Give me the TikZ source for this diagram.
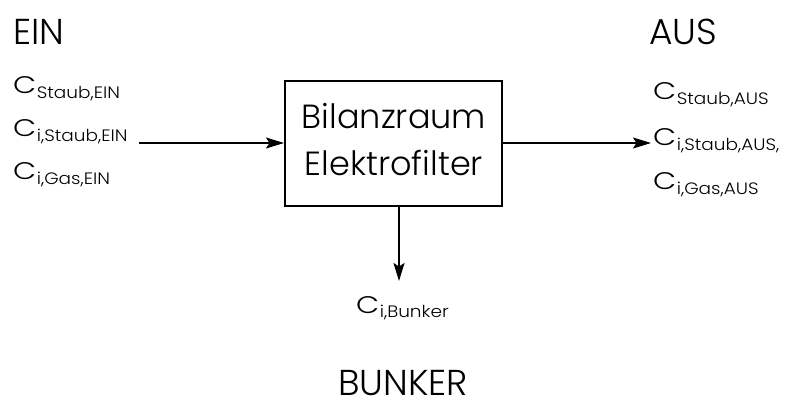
\documentclass[tikz,border=0pt]{standalone}
\usepackage{fontspec}
\setmainfont{Poppins Light}
\newfontfamily\symfont{Poppins Light}[FakeStretch=1.25]
\newfontfamily\idxfont{Poppins Light}[FakeStretch=1.12]
\usetikzlibrary{arrows.meta}

% concentration symbol: large C followed by a lowered index
\newcommand\conc[1]{{\symfont\fontsize{24}{24}\selectfont C}\kern0.5pt\raisebox{-5pt}{\idxfont\fontsize{16.5}{16.5}\selectfont #1}}

\tikzset{
  heading/.style={inner sep=0pt, anchor=base west, font=\fontsize{36}{36}\selectfont},
  boxtext/.style={inner sep=0pt, anchor=base, font=\fontsize{33.5}{33.5}\selectfont},
  label/.style={inner sep=0pt, anchor=base west},
  balance/.style={draw, line width=2pt, minimum width=217pt, minimum height=125pt, inner sep=0pt},
  flow/.style={line width=1.6pt, -{Stealth[length=18pt, width=11pt, inset=3.5pt]}}
}

\begin{document}
\begin{tikzpicture}[x=1pt, y=1pt]
  \useasboundingbox (0,0) rectangle (787,-403);

  % headings
  \node[heading] (ein) at (13,-45) {EIN};
  \node[heading] (aus) at (649,-45) {AUS};
  \node[heading] (bunker) at (338,-395) {BUNKER};

  % incoming concentrations
  \node[label] (in1) at (13,-94) {\conc{Staub,EIN}};
  \node[label] (in2) at (13,-137) {\conc{i,Staub,EIN}};
  \node[label] (in3) at (13,-180) {\conc{i,Gas,EIN}};

  % outgoing concentrations
  \node[label] (out1) at (653,-100) {\conc{Staub,AUS}};
  \node[label] (out2) at (653,-146) {\conc{i,Staub,AUS,}};
  \node[label] (out3) at (653,-190) {\conc{i,Gas,AUS}};

  % balance volume
  \node[balance] (box) at (393.5,-143.5) {};
  \node[boxtext] (t1) at (394,-129) {Bilanzraum};
  \node[boxtext] (t2) at (394,-176) {Elektrofilter};

  % dust collected in the hopper
  \node[label] (bunk) at (356,-313) {\conc{i,Bunker}};

  % mass flows
  \coordinate (inStart) at (139,-143);
  \coordinate (outEnd) at (651,-143);
  \coordinate (downEnd) at (399,-281);
  \draw[flow] (inStart) -- (inStart -| box.west);
  \draw[flow] (box.east |- outEnd) -- (outEnd);
  \draw[flow] (box.south -| downEnd) -- (downEnd);
\end{tikzpicture}
\end{document}
